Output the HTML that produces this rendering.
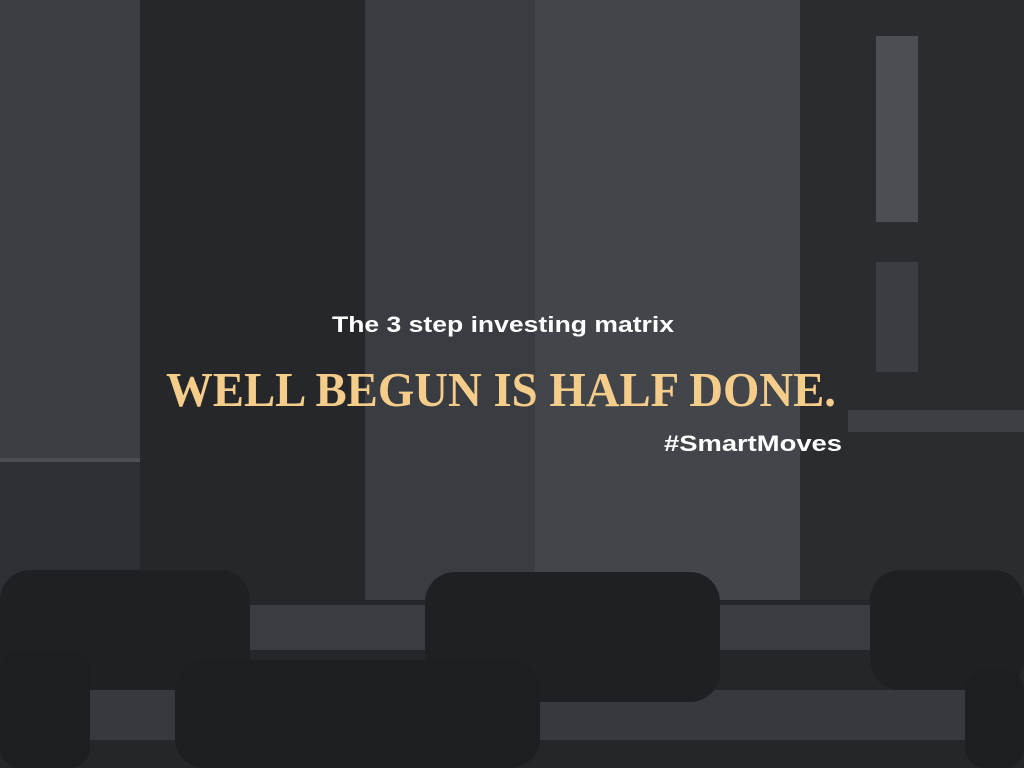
<!DOCTYPE html>
<html><head><meta charset="utf-8"><style>
html,body{margin:0;padding:0;width:1024px;height:768px;overflow:hidden;background:#2e3035}
svg{display:block}
</style></head><body>
<svg width="1024" height="768">
<g>
<rect x="0" y="0" width="1024" height="768" fill="#2e3035"/>
<rect x="0" y="0" width="140" height="462" fill="#3b3e43"/>
<rect x="0" y="458" width="140" height="4" fill="#4a4d52"/>
<rect x="140" y="0" width="225" height="600" fill="#25272b"/>
<rect x="365" y="0" width="170" height="600" fill="#393c41"/>
<rect x="535" y="0" width="265" height="600" fill="#42454a"/>
<rect x="800" y="0" width="224" height="600" fill="#2a2c30"/>
<rect x="876" y="36" width="42" height="186" fill="#4b4e53"/>
<rect x="876" y="262" width="42" height="110" fill="#3a3d42"/>
<rect x="848" y="410" width="176" height="22" fill="#3c3f44"/>
<rect x="0" y="600" width="1024" height="168" fill="#24262a"/>
<rect x="250" y="605" width="620" height="45" fill="#3a3c41"/>
<rect x="80" y="690" width="900" height="50" fill="#37393e"/>
<rect x="0" y="570" width="250" height="120" rx="30" fill="#1e2024"/>
<rect x="425" y="572" width="295" height="130" rx="30" fill="#1e2024"/>
<rect x="870" y="570" width="154" height="120" rx="30" fill="#1e2024"/>
<rect x="175" y="660" width="365" height="108" rx="30" fill="#1c1e22"/>
<rect x="0" y="650" width="90" height="118" rx="20" fill="#1c1e22"/>
<rect x="965" y="670" width="59" height="98" rx="20" fill="#1c1e22"/>
</g>
<text x="503" y="332" text-anchor="middle" font-family="Liberation Sans, sans-serif" font-weight="bold" font-size="22" fill="#ffffff" textLength="342" lengthAdjust="spacingAndGlyphs">The 3 step investing matrix</text>
<text x="166" y="406" font-family="Liberation Serif, serif" font-weight="bold" font-size="49" fill="#f5cd8a" textLength="670" lengthAdjust="spacingAndGlyphs">WELL BEGUN IS HALF DONE.</text>
<text x="842" y="451" text-anchor="end" font-family="Liberation Sans, sans-serif" font-weight="bold" font-size="22" fill="#ffffff" textLength="178" lengthAdjust="spacingAndGlyphs">#SmartMoves</text>
</svg>
</body></html>
